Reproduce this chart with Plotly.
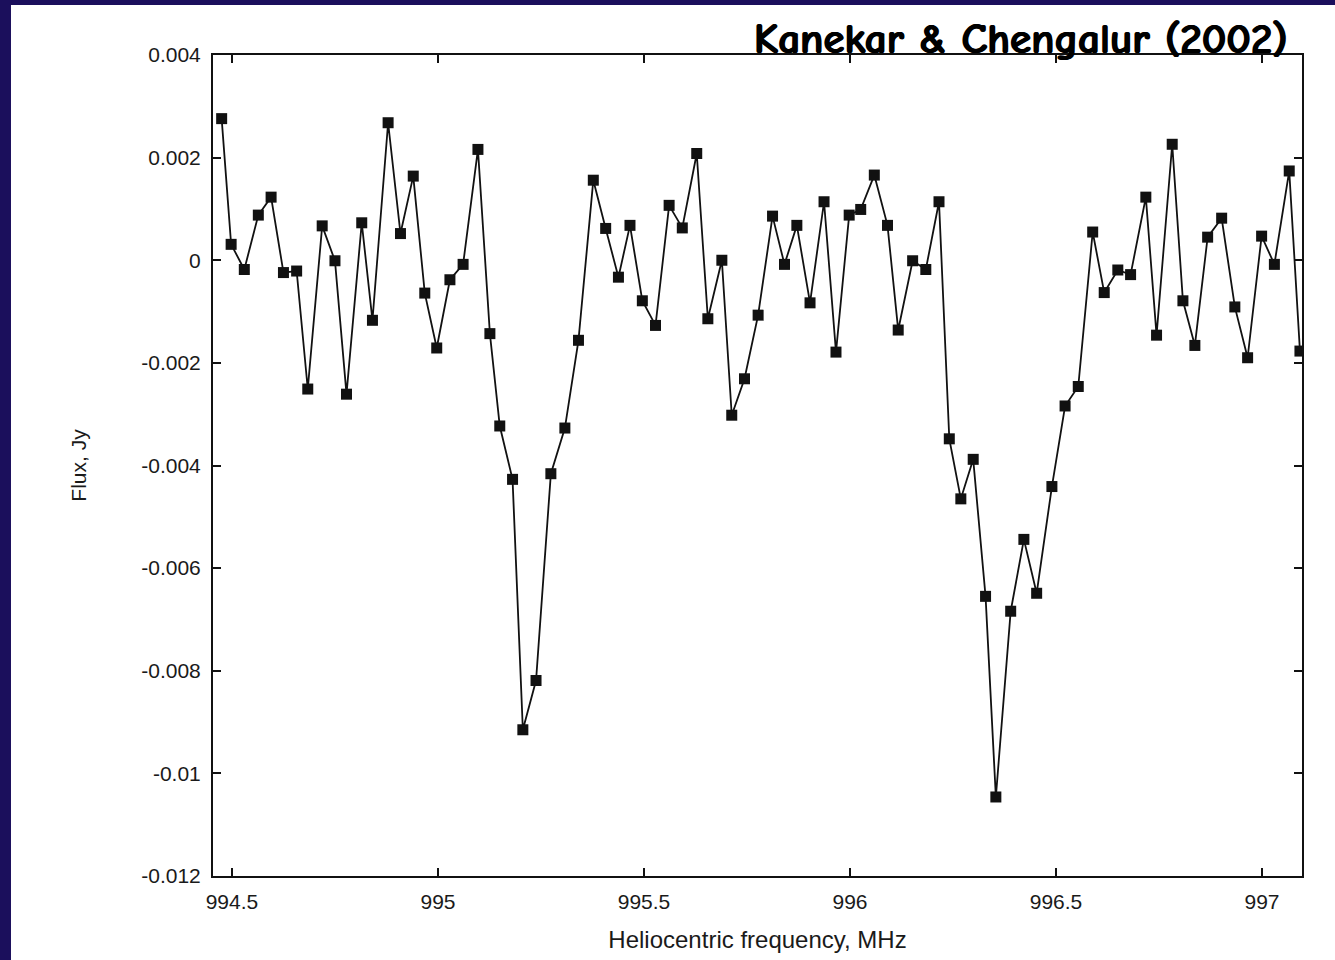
import plotly.graph_objects as go

# Heliocentric frequency (MHz) of each channel
freq_mhz = [
    994.475, 994.498, 994.530, 994.564, 994.595, 994.625, 994.657, 994.684, 994.719, 994.750,
    994.778, 994.815, 994.841, 994.879, 994.909, 994.940, 994.968, 994.997, 995.029, 995.061,
    995.097, 995.126, 995.150, 995.181, 995.206, 995.238, 995.274, 995.308, 995.341, 995.377,
    995.407, 995.438, 995.466, 995.496, 995.528, 995.561, 995.593, 995.628, 995.655, 995.689,
    995.713, 995.744, 995.777, 995.812, 995.841, 995.871, 995.903, 995.937, 995.966, 995.998,
    996.026, 996.059, 996.091, 996.117, 996.152, 996.184, 996.216, 996.241, 996.269, 996.299,
    996.329, 996.354, 996.390, 996.422, 996.453, 996.490, 996.522, 996.554, 996.589, 996.617,
    996.650, 996.681, 996.718, 996.744, 996.782, 996.808, 996.837, 996.868, 996.902, 996.934,
    996.965, 996.999, 997.030, 997.066, 997.092,
]

# Flux (Jy)
flux_jy = [
    0.00276, 0.00031, -0.00018, 0.00088, 0.00123, -0.00024, -0.00021, -0.00251, 0.00067, -0.00001,
    -0.00261, 0.00073, -0.00117, 0.00268, 0.00052, 0.00164, -0.00064, -0.00171, -0.00038, -0.00008,
    0.00216, -0.00143, -0.00323, -0.00427, -0.00915, -0.00819, -0.00416, -0.00327, -0.00156, 0.00156,
    0.00062, -0.00033, 0.00068, -0.00079, -0.00127, 0.00107, 0.00063, 0.00208, -0.00114, 0.00000,
    -0.00302, -0.00231, -0.00107, 0.00086, -0.00008, 0.00068, -0.00083, 0.00114, -0.00179, 0.00088,
    0.00099, 0.00166, 0.00068, -0.00136, -0.00001, -0.00018, 0.00114, -0.00348, -0.00465, -0.00388,
    -0.00655, -0.01046, -0.00684, -0.00544, -0.00649, -0.00441, -0.00284, -0.00246, 0.00055, -0.00063,
    -0.00019, -0.00028, 0.00123, -0.00146, 0.00226, -0.00079, -0.00166, 0.00045, 0.00082, -0.00091,
    -0.00190, 0.00047, -0.00008, 0.00174, -0.00177,
]

x_tickvals = [994.5, 995, 995.5, 996, 996.5, 997]
x_ticktext = ["994.5", "995", "995.5", "996", "996.5", "997"]
y_tickvals = [0.004, 0.002, 0, -0.002, -0.004, -0.006, -0.008, -0.01, -0.012]
y_ticktext = ["0.004", "0.002", "0", "-0.002", "-0.004", "-0.006", "-0.008", "-0.01", "-0.012"]

title_text = "Kanekar & Chengalur (2002)"
x_title = "Heliocentric frequency, MHz"
y_title = "Flux, Jy"

fig = go.Figure()
fig.add_trace(go.Scatter(
    x=freq_mhz, y=flux_jy, mode="lines+markers",
    line=dict(color="#111111", width=1.8),
    marker=dict(symbol="square", size=11, color="#111111"),
    showlegend=False, hoverinfo="skip",
))

label_font = "Liberation Sans, Arial, sans-serif"
tick_font = dict(family=label_font, size=21, color="#1a1a1a")

fig.update_layout(
    width=1335, height=960,
    margin=dict(l=213, r=33, t=55, b=84, pad=0),
    paper_bgcolor="#1b0f5c",
    plot_bgcolor="rgba(0,0,0,0)",
    shapes=[dict(type="rect", xref="paper", yref="paper",
                 x0=-0.1855, x1=1.06, y0=-0.2, y1=1.0609,
                 fillcolor="white", line=dict(width=0), layer="below")],
    annotations=[dict(text="<b>" + title_text + "</b>", xref="paper", yref="paper",
                      x=0.989, y=1.0195, xanchor="right", yanchor="middle", showarrow=False,
                      font=dict(family="Comic Sans MS, Comic Neue, Noto Sans, sans-serif",
                                size=43, color="#000000",
                                shadow="0.7px 0 0 #000, -0.7px 0 0 #000"))],
)

fig.update_xaxes(
    range=[994.454, 997.097], tickvals=x_tickvals, ticktext=x_ticktext,
    ticks="inside", ticklen=8, tickwidth=1.5, tickcolor="#111111",
    showline=True, linecolor="#111111", linewidth=2, mirror="ticks",
    showgrid=False, zeroline=False, tickfont=tick_font, ticklabelstandoff=6,
    title=dict(text=x_title, font=dict(family=label_font, size=24, color="#1a1a1a"),
               standoff=19),
)
fig.update_yaxes(
    range=[-0.012, 0.004], tickvals=y_tickvals, ticktext=y_ticktext,
    ticks="inside", ticklen=8, tickwidth=1.5, tickcolor="#111111",
    showline=True, linecolor="#111111", linewidth=2, mirror="ticks",
    showgrid=False, zeroline=False, tickfont=tick_font, ticklabelstandoff=6,
    title=dict(text=y_title, font=dict(family=label_font, size=21, color="#1a1a1a"),
               standoff=49),
)

fig.write_html("out.html")
